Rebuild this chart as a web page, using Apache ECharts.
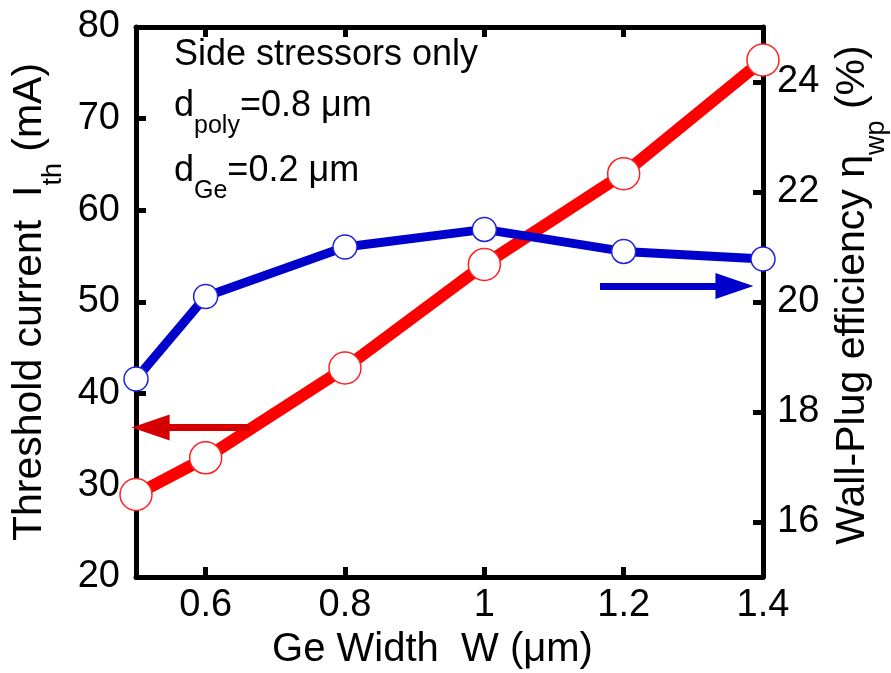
<!DOCTYPE html>
<html>
<head>
<meta charset="utf-8">
<script src="https://cdn.jsdelivr.net/npm/echarts@6/dist/echarts.min.js"></script>
<style>
  html, body { margin: 0; padding: 0; background: #fff; }
  #main { width: 891px; height: 673px; }
</style>
</head>
<body>
<div id="main"></div>
<script>
// Ge width (um)
var geWidth = [0.5, 0.6, 0.8, 1.0, 1.2, 1.4];
// threshold current (mA), left axis
var thresholdCurrent = [29.0, 33.0, 42.8, 54.1, 64.0, 76.4];
// wall-plug efficiency (%), right axis
var wallPlugEff = [18.6, 20.1, 21.0, 21.32, 20.92, 20.78];

var xTicks = [0.6, 0.8, 1.0, 1.2, 1.4];
var leftTicks = [20, 30, 40, 50, 60, 70, 80];
var rightTicks = [16, 18, 20, 22, 24];

var FONT = "'Liberation Sans', Arial, Helvetica, sans-serif";

var chart = echarts.init(document.getElementById('main'));

function pairs(xs, ys) {
  var out = [];
  for (var i = 0; i < xs.length; i++) out.push([xs[i], ys[i]]);
  return out;
}

var axisLine = { show: true, onZero: false, lineStyle: { color: '#000', width: 5 } };
var axisTick = { show: true, inside: true, length: 10, lineStyle: { color: '#000', width: 5 } };
var labelStyle = { color: '#000', fontSize: 38, fontFamily: FONT };

// rich styles for names with a subscript
var nameRich = {
  m: { fontSize: 41, fontFamily: FONT, color: '#000' },
  s: { fontSize: 27, fontFamily: FONT, color: '#000', padding: [48, 0, 0, 0] }
};
var noteRich = {
  m: { fontSize: 36, fontFamily: FONT, fill: '#000' },
  s: { fontSize: 25, fontFamily: FONT, fill: '#000', padding: [40, 0, 0, 0] }
};

var option = {
  animation: false,
  backgroundColor: '#fff',
  grid: { left: 136, right: 128, top: 27, bottom: 96, outerBoundsMode: 'none', containLabel: false },
  xAxis: [
    {
      type: 'value', min: 0.5, max: 1.4, position: 'bottom',
      axisLine: axisLine,
      axisTick: Object.assign({ customValues: xTicks }, axisTick),
      axisLabel: Object.assign({ customValues: xTicks, margin: 10 }, labelStyle),
      splitLine: { show: false },
      name: 'Ge Width  W (\u03bcm)',
      nameLocation: 'middle', nameGap: 51,
      nameTextStyle: { color: '#000', fontSize: 40, fontFamily: FONT, padding: [0, 34, 0, 0] }
    },
    {
      type: 'value', min: 0.5, max: 1.4, position: 'top',
      axisLine: axisLine,
      axisTick: Object.assign({ customValues: xTicks }, axisTick),
      axisLabel: { show: false },
      splitLine: { show: false }
    }
  ],
  yAxis: [
    {
      type: 'value', min: 20, max: 80, interval: 10, position: 'left',
      axisLine: axisLine,
      axisTick: axisTick,
      axisLabel: Object.assign({ margin: 16 }, labelStyle),
      splitLine: { show: false },
      name: '{m|Threshold current  I}{s|th}{m| (mA)}',
      nameLocation: 'middle', nameRotate: 90, nameGap: 68,
      nameTextStyle: { rich: nameRich }
    },
    {
      type: 'value', min: 15, max: 25, interval: 1, position: 'right',
      axisLine: axisLine,
      axisTick: Object.assign({ customValues: rightTicks }, axisTick),
      axisLabel: Object.assign({ customValues: rightTicks, margin: 14 }, labelStyle),
      splitLine: { show: false },
      name: '{m|Wall-Plug efficiency \u03b7}{s|wp}{m| (%)}',
      nameLocation: 'middle', nameRotate: 90, nameGap: 52,
      nameTextStyle: { rich: nameRich, padding: [0, 0, 0, 14] }
    }
  ],
  graphic: [
    { type: 'text', left: 174, top: 37, silent: true,
      style: { text: 'Side stressors only', font: '36px ' + FONT, fill: '#000' } },
    { type: 'text', left: 174, top: 88, silent: true,
      style: { text: '{m|d}{s|poly}{m|=0.8 \u03bcm}', rich: noteRich } },
    { type: 'text', left: 174, top: 153, silent: true,
      style: { text: '{m|d}{s|Ge}{m|=0.2 \u03bcm}', rich: noteRich } }
  ],
  series: [
    {
      name: 'Threshold current',
      type: 'line', xAxisIndex: 0, yAxisIndex: 0,
      data: pairs(geWidth, thresholdCurrent),
      clip: false,
      symbol: 'circle', symbolSize: 32,
      lineStyle: { color: '#ff0000', width: 12 },
      itemStyle: { color: '#fff', borderColor: '#ff2020', borderWidth: 1.5 },
      emphasis: { disabled: true },
      markLine: {
        silent: true, animation: false,
        symbol: ['none', 'triangle'],
        label: { show: false },
        lineStyle: { color: '#d40000', width: 7, type: 'solid' },
        emphasis: { disabled: true },
        data: [[
          { coord: [0.663, 36.3] },
          { coord: [0.521, 36.3], symbol: 'triangle', symbolSize: [26, 38] }
        ]]
      }
    },
    {
      name: 'Wall-Plug efficiency',
      type: 'line', xAxisIndex: 0, yAxisIndex: 1,
      data: pairs(geWidth, wallPlugEff),
      clip: false,
      symbol: 'circle', symbolSize: 24,
      lineStyle: { color: '#0000cc', width: 9 },
      itemStyle: { color: '#fff', borderColor: '#2020dd', borderWidth: 1.5 },
      emphasis: { disabled: true },
      markLine: {
        silent: true, animation: false,
        symbol: ['none', 'triangle'],
        label: { show: false },
        lineStyle: { color: '#0000cc', width: 7, type: 'solid' },
        emphasis: { disabled: true },
        data: [[
          { coord: [1.166, 20.29] },
          { coord: [1.359, 20.29], symbol: 'triangle', symbolSize: [26, 38] }
        ]]
      }
    }
  ]
};

chart.setOption(option);
</script>
</body>
</html>
